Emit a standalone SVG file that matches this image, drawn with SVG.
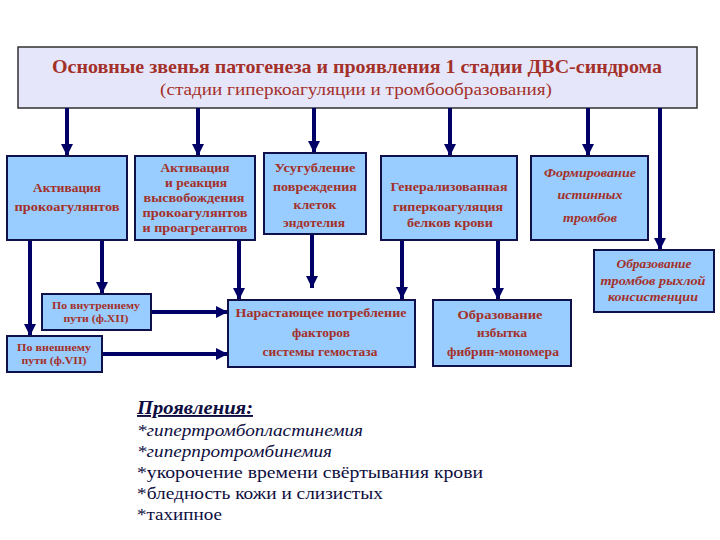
<svg xmlns="http://www.w3.org/2000/svg" width="720" height="540" viewBox="0 0 720 540" font-family="Liberation Serif, Times New Roman, DejaVu Serif, serif">
<defs>
<marker id="ah" markerUnits="userSpaceOnUse" markerWidth="12" markerHeight="12" viewBox="0 0 12 12" refX="12" refY="6" orient="auto">
<path d="M0,0 L12,6 L0,12 Z" fill="#000066"/>
</marker>
<style>
.box{fill:#99ccff;stroke:#10104a;stroke-width:2}
.hdr{fill:#e6e6fa;stroke:#303030;stroke-width:1.5}
.t{font-weight:bold;fill:#a3312a;text-anchor:middle;font-size:12.5px}
.ti{font-weight:bold;font-style:italic;fill:#a3312a;text-anchor:middle;font-size:12.5px}
.s{fill:#a3312a;text-anchor:middle;font-size:11px;font-weight:bold}
.c line{stroke:#000066;stroke-width:4;fill:none}
.m{fill:#0d0d40;font-size:17px}
</style>
</defs>
<rect width="720" height="540" fill="#ffffff"/>
<g id="header">
<rect class="hdr" x="18" y="47" width="679" height="61"/>
<text class="t" x="357" y="73" style="font-size:19px" textLength="610" lengthAdjust="spacingAndGlyphs">Основные звенья патогенеза и проявления 1 стадии ДВС-синдрома</text>
<text class="t" x="356" y="95" style="font-size:16px;font-weight:normal" textLength="392" lengthAdjust="spacingAndGlyphs">(стадии гиперкоагуляции и тромбообразования)</text>
</g>
<g class="c" id="connectors">
<line x1="67" y1="108" x2="67" y2="156" marker-end="url(#ah)"/>
<line x1="198" y1="108" x2="198" y2="156" marker-end="url(#ah)"/>
<line x1="314" y1="108" x2="314" y2="153" marker-end="url(#ah)"/>
<line x1="450" y1="108" x2="450" y2="156" marker-end="url(#ah)"/>
<line x1="588" y1="108" x2="588" y2="156" marker-end="url(#ah)"/>
<line x1="660" y1="108" x2="660" y2="250" marker-end="url(#ah)"/>
<line x1="30" y1="240" x2="30" y2="336" marker-end="url(#ah)"/>
<line x1="102" y1="240" x2="102" y2="294" marker-end="url(#ah)"/>
<line x1="239" y1="240" x2="239" y2="300" marker-end="url(#ah)"/>
<line x1="312" y1="234" x2="312" y2="288" marker-end="url(#ah)"/>
<line x1="402" y1="240" x2="402" y2="299" marker-end="url(#ah)"/>
<line x1="498" y1="240" x2="498" y2="300" marker-end="url(#ah)"/>
<line x1="151" y1="312" x2="228" y2="312" marker-end="url(#ah)"/>
<line x1="102" y1="354" x2="228" y2="354" marker-end="url(#ah)"/>
</g>
<g id="n1">
<rect class="box" x="7" y="156" width="120" height="84"/>
<text class="t" x="67" y="192" textLength="68" lengthAdjust="spacingAndGlyphs">Активация</text>
<text class="t" x="67" y="211" textLength="105" lengthAdjust="spacingAndGlyphs">прокоагулянтов</text>
</g>
<g id="n2">
<rect class="box" x="135" y="156" width="120" height="84"/>
<text class="t" x="195" y="172" textLength="69" lengthAdjust="spacingAndGlyphs">Активация</text>
<text class="t" x="196" y="187" textLength="62" lengthAdjust="spacingAndGlyphs">и реакция</text>
<text class="t" x="194" y="202" textLength="101" lengthAdjust="spacingAndGlyphs">высвобождения</text>
<text class="t" x="195" y="217" textLength="105" lengthAdjust="spacingAndGlyphs">прокоагулянтов</text>
<text class="t" x="195" y="232" textLength="105" lengthAdjust="spacingAndGlyphs">и проагрегантов</text>
</g>
<g id="n3">
<rect class="box" x="264" y="153" width="102" height="81"/>
<text class="t" x="315" y="172" textLength="81" lengthAdjust="spacingAndGlyphs">Усугубление</text>
<text class="t" x="315" y="191" textLength="84" lengthAdjust="spacingAndGlyphs">повреждения</text>
<text class="t" x="315" y="209" textLength="43" lengthAdjust="spacingAndGlyphs">клеток</text>
<text class="t" x="314" y="227" textLength="62" lengthAdjust="spacingAndGlyphs">эндотелия</text>
</g>
<g id="n4">
<rect class="box" x="381" y="156" width="136" height="84"/>
<text class="t" x="449" y="191" textLength="117" lengthAdjust="spacingAndGlyphs">Генерализованная</text>
<text class="t" x="448" y="211" textLength="110" lengthAdjust="spacingAndGlyphs">гиперкоагуляция</text>
<text class="t" x="450" y="227" textLength="86" lengthAdjust="spacingAndGlyphs">белков крови</text>
</g>
<g id="n5">
<rect class="box" x="531" y="156" width="117" height="84"/>
<text class="ti" x="590" y="177" textLength="92" lengthAdjust="spacingAndGlyphs">Формирование</text>
<text class="ti" x="590" y="199" textLength="65" lengthAdjust="spacingAndGlyphs">истинных</text>
<text class="ti" x="590" y="222" textLength="54" lengthAdjust="spacingAndGlyphs">тромбов</text>
</g>
<g id="n6">
<rect class="box" x="594" y="250" width="120" height="62"/>
<text class="ti" x="654" y="268" textLength="75" lengthAdjust="spacingAndGlyphs">Образование</text>
<text class="ti" x="653" y="285" textLength="105" lengthAdjust="spacingAndGlyphs">тромбов рыхлой</text>
<text class="ti" x="653" y="301" textLength="90" lengthAdjust="spacingAndGlyphs">консистенции</text>
</g>
<g id="n7">
<rect class="box" x="42" y="294" width="109" height="36"/>
<text class="s" x="96" y="309" textLength="88" lengthAdjust="spacingAndGlyphs">По внутреннему</text>
<text class="s" x="96" y="322" textLength="65" lengthAdjust="spacingAndGlyphs">пути (ф.XII)</text>
</g>
<g id="n8">
<rect class="box" x="7" y="336" width="95" height="36"/>
<text class="s" x="54" y="351" textLength="74" lengthAdjust="spacingAndGlyphs">По внешнему</text>
<text class="s" x="54" y="364" textLength="65" lengthAdjust="spacingAndGlyphs">пути (ф.VII)</text>
</g>
<g id="n9">
<rect class="box" x="228" y="300" width="187" height="67"/>
<text class="t" x="321" y="317" textLength="171" lengthAdjust="spacingAndGlyphs">Нарастающее потребление</text>
<text class="t" x="321" y="337" textLength="58" lengthAdjust="spacingAndGlyphs">факторов</text>
<text class="t" x="320" y="356" textLength="115" lengthAdjust="spacingAndGlyphs">системы гемостаза</text>
</g>
<g id="n10">
<rect class="box" x="433" y="300" width="138" height="66"/>
<text class="t" x="500" y="319" textLength="85" lengthAdjust="spacingAndGlyphs">Образование</text>
<text class="t" x="502" y="337" textLength="50" lengthAdjust="spacingAndGlyphs">избытка</text>
<text class="t" x="503" y="356" textLength="112" lengthAdjust="spacingAndGlyphs">фибрин-мономера</text>
</g>
<g id="manifest">
<text class="m" x="137" y="414" style="font-size:19px;font-weight:bold;font-style:italic;text-decoration:underline" textLength="116" lengthAdjust="spacingAndGlyphs">Проявления:</text>
<text class="m" x="137" y="436" style="font-style:italic" textLength="226" lengthAdjust="spacingAndGlyphs">*гипертромбопластинемия</text>
<text class="m" x="137" y="457" style="font-style:italic" textLength="195" lengthAdjust="spacingAndGlyphs">*гиперпротромбинемия</text>
<text class="m" x="137" y="478" textLength="346" lengthAdjust="spacingAndGlyphs">*укорочение времени свёртывания крови</text>
<text class="m" x="137" y="499" textLength="246" lengthAdjust="spacingAndGlyphs">*бледность кожи и слизистых</text>
<text class="m" x="137" y="520" textLength="85" lengthAdjust="spacingAndGlyphs">*тахипное</text>
</g>
</svg>
